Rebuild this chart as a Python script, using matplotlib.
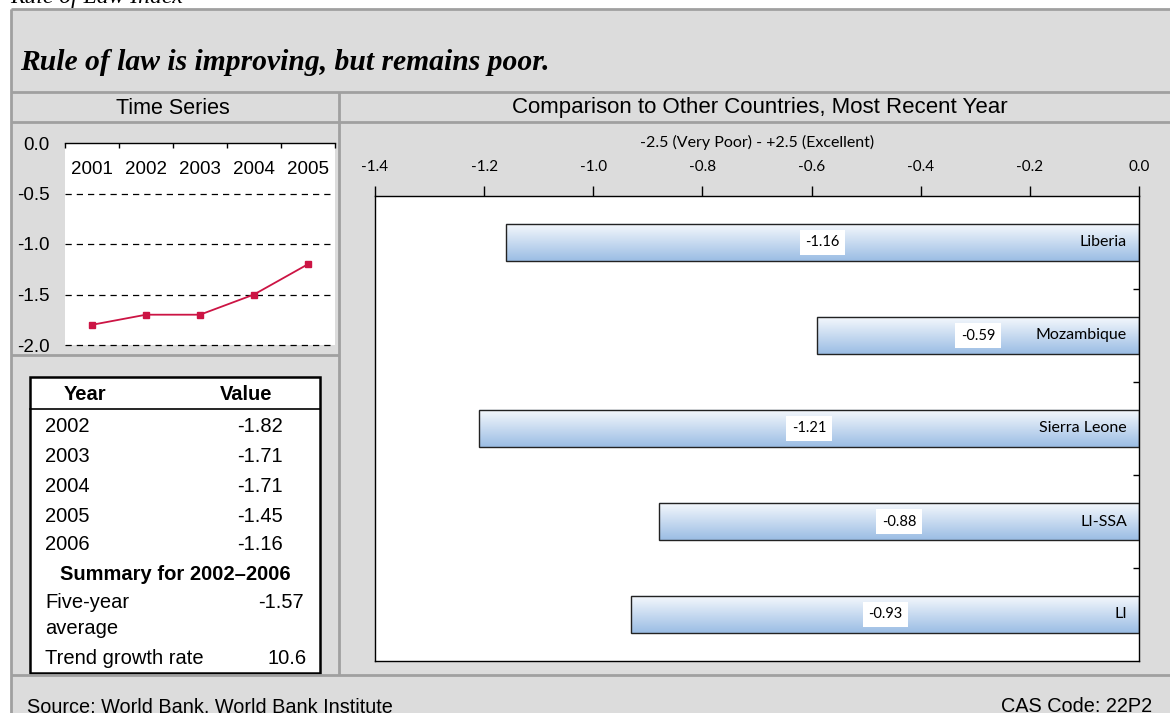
import matplotlib.pyplot as plt
import matplotlib.patches as patches
from matplotlib.colors import LinearSegmentedColormap
import numpy as np

# time series (left panel)
ts_years = ['2001', '2002', '2003', '2004', '2005']
ts_values = [-1.8, -1.7, -1.7, -1.5, -1.2]

# summary table
tbl_years = ['2002', '2003', '2004', '2005', '2006']
tbl_values = ['-1.82', '-1.71', '-1.71', '-1.45', '-1.16']
five_year_avg = '-1.57'
trend_growth = '10.6'

# comparison bars (right panel)
countries = ['Liberia', 'Mozambique', 'Sierra Leone', 'LI-SSA', 'LI']
scores = [-1.16, -0.59, -1.21, -0.88, -0.93]
x_ticks = [-1.4, -1.2, -1.0, -0.8, -0.6, -0.4, -0.2, 0.0]

W, H = 1170, 713
BG = '#dcdcdc'
LINE = '#a0a0a0'
SANS = 'Liberation Sans'
SERIF = 'Liberation Serif'
GILL = 'Lato'
TBL_FS = 14.5


def px_box(x0, y0, x1, y1):
    return [x0 / W, 1 - y1 / H, (x1 - x0) / W, (y1 - y0) / H]


fig = plt.figure(figsize=(W / 100, H / 100), dpi=100)
fig.patch.set_facecolor('white')

# background layer in pixel coordinates
bg = fig.add_axes([0, 0, 1, 1], zorder=0)
bg.set_xlim(0, W)
bg.set_ylim(H, 0)
bg.axis('off')

bg.add_patch(patches.Rectangle((11, 9), W, H, facecolor=BG, edgecolor='none'))
for (xa, ya, xb, yb) in [(11, 9, W, 9), (11, 9, 11, H), (11, 92, W, 92),
                         (11, 122, W, 122), (339, 92, 339, 675),
                         (11, 355, 339, 355), (11, 675, W, 675)]:
    bg.plot([xa, xb], [ya, yb], color=LINE, lw=2, solid_capstyle='butt')

bg.text(10, 3, 'Rule of Law Index', fontsize=17, style='italic', family=SERIF,
        ha='left', va='baseline')
bg.text(20, 70, 'Rule of law is improving, but remains poor.', fontsize=21.3,
        style='italic', weight='bold', family=SERIF, ha='left', va='baseline')
bg.text(173, 108, 'Time Series', fontsize=15.5, family=SANS, ha='center', va='center')
bg.text(760, 108, 'Comparison to Other Countries, Most Recent Year', fontsize=16,
        family=SANS, ha='center', va='center')
bg.text(27, 707, 'Source: World Bank, World Bank Institute', fontsize=14.3,
        family=SANS, ha='left', va='center')
bg.text(1152, 707, 'CAS Code: 22P2', fontsize=14.3, family=SANS, ha='right', va='center')

# summary table
bg.add_patch(patches.Rectangle((30, 377), 290, 296, facecolor='white',
                               edgecolor='black', lw=1.8))
bg.plot([30, 320], [409, 409], color='black', lw=1.2)
bg.text(85, 394, 'Year', fontsize=TBL_FS, weight='bold', family=SANS, ha='center', va='center')
bg.text(246, 394, 'Value', fontsize=TBL_FS, weight='bold', family=SANS, ha='center', va='center')
row_y = [427, 456, 486, 516, 545]
for yr, val, ry in zip(tbl_years, tbl_values, row_y):
    bg.text(45, ry, yr, fontsize=TBL_FS, family=SANS, ha='left', va='center')
    bg.text(283, ry, val, fontsize=TBL_FS, family=SANS, ha='right', va='center')
bg.text(175, 574, 'Summary for 2002\u20132006', fontsize=TBL_FS, weight='bold',
        family=SANS, ha='center', va='center')
bg.text(45, 603, 'Five-year', fontsize=TBL_FS, family=SANS, ha='left', va='center')
bg.text(45, 628, 'average', fontsize=TBL_FS, family=SANS, ha='left', va='center')
bg.text(304, 603, five_year_avg, fontsize=TBL_FS, family=SANS, ha='right', va='center')
bg.text(45, 658, 'Trend growth rate', fontsize=TBL_FS, family=SANS, ha='left', va='center')
bg.text(307, 658, trend_growth, fontsize=TBL_FS, family=SANS, ha='right', va='center')

# time series line chart
ax1 = fig.add_axes(px_box(65, 143, 335, 345), zorder=2)
xs = np.arange(len(ts_years))
ax1.plot(xs, ts_values, color='#cc1444', lw=1.3, marker='s', ms=4.5, zorder=3)
ax1.set_xlim(-0.5, len(ts_years) - 0.5)
ax1.set_ylim(-2.0, 0.0)
for gy in [-0.5, -1.0, -1.5, -2.0]:
    ax1.axhline(gy, color='black', lw=0.9, dashes=(5, 4), zorder=1, clip_on=False)
for x, lab in zip(xs, ts_years):
    ax1.text(x, -0.26, lab, fontsize=13.5, family=SANS, ha='center', va='center')
for s in ['left', 'right', 'bottom']:
    ax1.spines[s].set_visible(False)
ax1.spines['top'].set_linewidth(1.0)
ax1.xaxis.tick_top()
ax1.set_xticks(np.arange(-0.5, len(ts_years), 1.0))
ax1.set_xticklabels([])
ax1.tick_params(axis='x', direction='in', length=3.5, width=1.0)
ax1.set_yticks([0.0, -0.5, -1.0, -1.5, -2.0])
ax1.set_yticklabels(['%.1f' % v for v in [0.0, -0.5, -1.0, -1.5, -2.0]],
                    fontsize=13.5, family=SANS)
ax1.tick_params(axis='y', length=0, pad=11)

# comparison bar chart
ax2 = fig.add_axes(px_box(375, 196, 1139, 661), zorder=2)
n = len(countries)
bar_h = 0.4
grad = LinearSegmentedColormap.from_list('barfill', ['#9bbde4', '#f6f9fd'])
ramp = np.linspace(0, 1, 64).reshape(-1, 1)
for i, (name, v) in enumerate(zip(countries, scores)):
    yc = n - 1 - i
    ax2.imshow(ramp, cmap=grad, origin='lower', aspect='auto', zorder=2,
               extent=[v, 0, yc - bar_h / 2, yc + bar_h / 2])
    ax2.add_patch(patches.Rectangle((v, yc - bar_h / 2), -v, bar_h, facecolor='none',
                                    edgecolor='#222222', lw=1.0, zorder=3))
    ax2.text(v / 2, yc, '%.2f' % v, fontsize=10.5, family=GILL, ha='center', va='center',
             zorder=4, bbox=dict(facecolor='white', edgecolor='none', pad=4))
    ax2.text(-0.022, yc, name, fontsize=11.5, family=GILL, ha='right', va='center', zorder=4)
ax2.set_xlim(-1.4, 0.0)
ax2.set_ylim(-0.5, n - 0.5)
ax2.xaxis.tick_top()
ax2.xaxis.set_label_position('top')
ax2.set_xticks(x_ticks)
ax2.set_xticklabels(['%.1f' % t for t in x_ticks], fontsize=11, family=GILL)
ax2.tick_params(axis='x', direction='out', length=7, width=1.0, pad=9)
ax2.set_xlabel('-2.5 (Very Poor) - +2.5 (Excellent)', fontsize=11.5, family=GILL, labelpad=9)
ax2.yaxis.tick_right()
ax2.set_yticks(np.arange(0.5, n - 1, 1.0))
ax2.set_yticklabels([])
ax2.tick_params(axis='y', direction='in', length=4, width=1.0)
for s in ax2.spines.values():
    s.set_linewidth(1.0)

fig.savefig('out.png', dpi=100)
